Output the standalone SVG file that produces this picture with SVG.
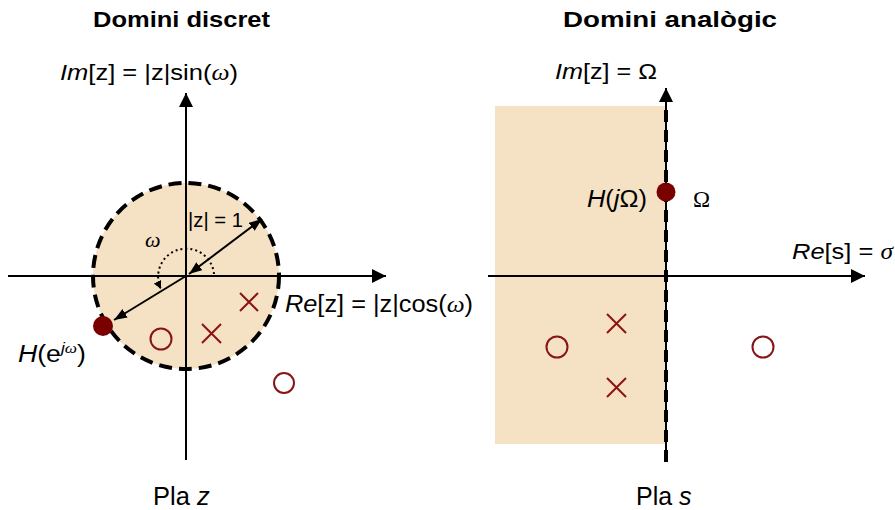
<svg xmlns="http://www.w3.org/2000/svg" width="895" height="510" viewBox="0 0 895 510">
<style>
.t{font-family:"Liberation Sans",Arial,sans-serif;fill:#000}
.b{font-weight:bold}
.i{font-style:italic}
.g{font-family:"Liberation Serif","Times New Roman",serif;font-style:italic}
.ax{stroke:#000;stroke-width:2;fill:none}
.pz{stroke:#8A1414;stroke-width:2;fill:none}
.dot{fill:#7A0000}
.reg{fill:#F5E1C3}
</style>
<defs>
<marker id="ah" markerUnits="userSpaceOnUse" markerWidth="15" markerHeight="14" refX="14" refY="7" orient="auto-start-reverse"><path d="M0,0 L14,7 L0,14 z" fill="#000"/></marker>
<marker id="ahs" markerUnits="userSpaceOnUse" markerWidth="14" markerHeight="12" refX="13" refY="5" orient="auto-start-reverse"><path d="M0,0 L13,5 L0,10 z" fill="#000"/></marker>
<marker id="ahd" markerUnits="userSpaceOnUse" markerWidth="9" markerHeight="8" refX="8" refY="4" orient="auto"><path d="M0,0 L8,4 L0,8 z" fill="#000"/></marker>
</defs>

<g id="titles">
<text class="t b" x="93" y="27" font-size="22.5" textLength="177" lengthAdjust="spacingAndGlyphs">Domini discret</text>
<text class="t b" x="563" y="27" font-size="22.5" textLength="214" lengthAdjust="spacingAndGlyphs">Domini analògic</text>
</g>

<g id="zplane-region">
<circle class="reg" cx="186" cy="276" r="93"/>
<circle cx="186" cy="276" r="93" fill="none" stroke="#000" stroke-width="4" stroke-dasharray="13 7"/>
</g>

<g id="splane-region">
<rect class="reg" x="495" y="106" width="171" height="338"/>
</g>

<g id="connectors">
<line class="ax" x1="8" y1="276" x2="386" y2="276" marker-end="url(#ah)"/>
<line class="ax" x1="186" y1="460" x2="186" y2="93" marker-end="url(#ah)"/>
<line class="ax" x1="189" y1="274" x2="262" y2="219" marker-start="url(#ahs)" marker-end="url(#ahs)"/>
<line class="ax" x1="186" y1="276" x2="114" y2="320" marker-end="url(#ahs)"/>
<path d="M214 274 A28 28 0 1 0 161 289" fill="none" stroke="#000" stroke-width="2" stroke-dasharray="2 3" marker-end="url(#ahd)"/>
<line class="ax" x1="488" y1="276" x2="865" y2="276" marker-end="url(#ah)"/>
<line class="ax" x1="666" y1="462" x2="666" y2="88" marker-end="url(#ah)"/>
<line x1="666" y1="462" x2="666" y2="104" stroke="#000" stroke-width="4" stroke-dasharray="12 8"/>
</g>

<g id="z-poles-zeros">
<path class="pz" d="M240 293 L258 311 M258 293 L240 311"/>
<path class="pz" d="M202 324 L221 343 M221 324 L202 343"/>
<circle class="pz" cx="161" cy="339" r="10.5"/>
<circle class="pz" cx="284" cy="383" r="10"/>
</g>

<g id="z-dot"><circle class="dot" cx="103" cy="326" r="10"/></g>

<g id="s-poles-zeros">
<path class="pz" d="M607 314 L626 333 M626 314 L607 333"/>
<path class="pz" d="M607 378 L626 397 M626 378 L607 397"/>
<circle class="pz" cx="557" cy="347" r="10.5"/>
<circle class="pz" cx="763" cy="347" r="10.5"/>
</g>

<g id="s-dot"><circle class="dot" cx="666" cy="192" r="9.5"/></g>

<g id="z-labels">
<text class="t" x="60" y="80" font-size="22.5" textLength="178" lengthAdjust="spacingAndGlyphs"><tspan class="i">Im</tspan>[z] = |z|sin(<tspan class="g">ω</tspan>)</text>
<text class="t" x="285" y="312" font-size="23" textLength="188" lengthAdjust="spacingAndGlyphs"><tspan class="i">Re</tspan>[z] = |z|cos(<tspan class="g">ω</tspan>)</text>
<text class="t" x="188" y="227" font-size="21" textLength="55" lengthAdjust="spacingAndGlyphs">|z| = 1</text>
<text class="g" x="145" y="247" font-size="22">ω</text>
<text class="t" x="18" y="362" font-size="23" textLength="68" lengthAdjust="spacingAndGlyphs"><tspan class="i">H</tspan>(e<tspan class="i" font-size="15" dy="-9">j</tspan><tspan class="g" font-size="15">ω</tspan><tspan dy="9">)</tspan></text>
<text class="t" x="153" y="505" font-size="25.5">Pla <tspan class="i">z</tspan></text>
</g>

<g id="s-labels">
<text class="t" x="555" y="79" font-size="22.5" textLength="102" lengthAdjust="spacingAndGlyphs"><tspan class="i">Im</tspan>[z] = Ω</text>
<text class="t" x="792" y="259" font-size="22.5" textLength="101" lengthAdjust="spacingAndGlyphs"><tspan class="i">Re</tspan>[s] = <tspan class="g">σ</tspan></text>
<text class="t" x="587" y="207" font-size="23" textLength="60" lengthAdjust="spacingAndGlyphs"><tspan class="i">H</tspan>(<tspan class="i">j</tspan>Ω)</text>
<text x="693" y="207" font-size="23" style="font-family:'Liberation Serif','Times New Roman',serif">Ω</text>
<text class="t" x="636" y="505" font-size="25">Pla <tspan class="i">s</tspan></text>
</g>
</svg>
